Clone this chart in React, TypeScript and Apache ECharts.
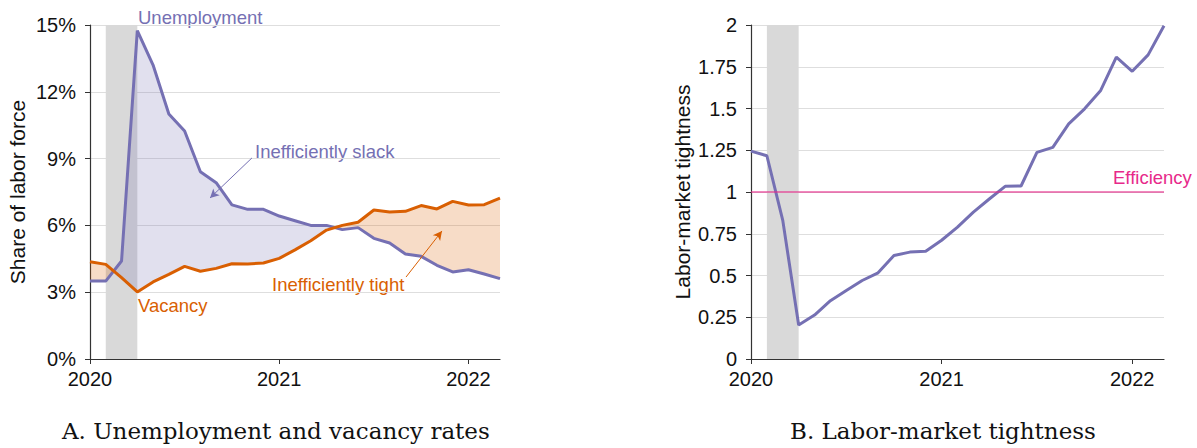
import React, { useEffect, useRef } from "react";
import * as echarts from "echarts";

const MONTHS = [
  "2020-01", "2020-02", "2020-03", "2020-04", "2020-05", "2020-06", "2020-07", "2020-08", "2020-09",
  "2020-10", "2020-11", "2020-12", "2021-01", "2021-02", "2021-03", "2021-04", "2021-05", "2021-06",
  "2021-07", "2021-08", "2021-09", "2021-10", "2021-11", "2021-12", "2022-01", "2022-02", "2022-03",
];
const UNEMPLOYMENT = [
  3.5, 3.5, 4.4, 14.75, 13.2, 11.0, 10.24, 8.41, 7.92, 6.92, 6.72, 6.72, 6.42, 6.21, 6.0, 6.0, 5.81,
  5.9, 5.42, 5.21, 4.72, 4.61, 4.21, 3.91, 4.01, 3.82, 3.61,
];
const VACANCY = [
  4.37, 4.25, 3.65, 3.01, 3.46, 3.8, 4.16, 3.94, 4.07, 4.28, 4.27, 4.31, 4.52, 4.9, 5.31, 5.79, 6.0,
  6.14, 6.69, 6.6, 6.63, 6.89, 6.74, 7.08, 6.92, 6.93, 7.22,
];
const TIGHTNESS = [
  1.245, 1.217, 0.83, 0.203, 0.263, 0.349, 0.41, 0.47, 0.516, 0.62, 0.64, 0.645, 0.711, 0.79, 0.88,
  0.958, 1.034, 1.036, 1.237, 1.267, 1.408, 1.498, 1.606, 1.807, 1.723, 1.821, 1.996,
];
const RECESSION = ["2020-02", "2020-04"];
const YEAR_TICKS = ["2020-01", "2021-01", "2022-01"];
const YEAR_LABELS = ["2020", "2021", "2022"];
const EFFICIENCY = 1;

const PURPLE = "#7570b3";
const ORANGE = "#d95f02";
const PINK = "#e7298a";
const SLACK_FILL = "rgba(117,112,179,0.22)";
const TIGHT_FILL = "rgba(217,95,2,0.22)";
const SANS = "Liberation Sans";
const SERIF = "DejaVu Serif";

const idx = (m: string) => MONTHS.indexOf(m);

type Pt = [number, number];
function buildRegions() {
  const regions: { sign: number; a: Pt[]; b: Pt[] }[] = [];
  let cur = {
    sign: Math.sign(UNEMPLOYMENT[0] - VACANCY[0]) || 1,
    a: [[0, UNEMPLOYMENT[0]]] as Pt[],
    b: [[0, VACANCY[0]]] as Pt[],
  };
  for (let i = 0; i < UNEMPLOYMENT.length - 1; i++) {
    const d0 = UNEMPLOYMENT[i] - VACANCY[i];
    const d1 = UNEMPLOYMENT[i + 1] - VACANCY[i + 1];
    if (d0 * d1 < 0) {
      const t = d0 / (d0 - d1);
      const xc = i + t;
      const yc = UNEMPLOYMENT[i] + t * (UNEMPLOYMENT[i + 1] - UNEMPLOYMENT[i]);
      cur.a.push([xc, yc]);
      cur.b.push([xc, yc]);
      regions.push(cur);
      cur = { sign: Math.sign(d1), a: [[xc, yc]], b: [[xc, yc]] };
    }
    cur.a.push([i + 1, UNEMPLOYMENT[i + 1]]);
    cur.b.push([i + 1, VACANCY[i + 1]]);
  }
  regions.push(cur);
  return regions;
}

const tickVals = YEAR_TICKS.map(idx);
const yearFmt = (v: number) => {
  const k = tickVals.indexOf(v);
  return k >= 0 ? YEAR_LABELS[k] : "";
};

function xAxisCfg(gridIndex: number) {
  return {
    type: "value",
    gridIndex,
    min: 0,
    max: MONTHS.length - 1,
    interval: 12,
    axisLine: { show: true, lineStyle: { color: "#333", width: 1.2 } },
    axisTick: { show: true, length: 5, customValues: tickVals, lineStyle: { color: "#333" } },
    axisLabel: {
      customValues: tickVals,
      formatter: yearFmt,
      fontFamily: SANS,
      fontSize: 20,
      color: "#111",
      margin: 10,
    },
    splitLine: { show: false },
  };
}

function yAxisCfg(gridIndex: number, max: number, interval: number, fmt: any, name: string, gap: number) {
  return {
    type: "value",
    gridIndex,
    min: 0,
    max,
    interval,
    name,
    nameLocation: "middle",
    nameGap: gap,
    nameTextStyle: { fontFamily: SANS, fontSize: 21, color: "#111" },
    axisLine: { show: true, lineStyle: { color: "#333", width: 1.2 } },
    axisTick: { show: true, length: 5, lineStyle: { color: "#333" } },
    axisLabel: { formatter: fmt, fontFamily: SANS, fontSize: 20, color: "#111", margin: 14 },
    splitLine: { show: true, lineStyle: { color: "#dedede", width: 1 } },
  };
}

export default function App() {
  const ref = useRef<HTMLDivElement>(null);
  useEffect(() => {
    if (!ref.current) return;
    const chart = echarts.init(ref.current, undefined, { renderer: "svg" });
    const regions = buildRegions();
    const recessionArea = {
      silent: true,
      itemStyle: { color: "#d9d9d9" },
      data: [[{ xAxis: idx(RECESSION[0]) }, { xAxis: idx(RECESSION[1]) }]],
    };
    const arrowLine = (color: string, from: Pt, to: Pt) => ({
      silent: true,
      symbol: ["none", "arrow"],
      symbolSize: [7, 9],
      lineStyle: { color, width: 1, type: "solid" },
      label: { show: false },
      data: [[{ coord: from }, { coord: to }]],
    });
    chart.setOption({
      animation: false,
      grid: [
        { left: 90, top: 25, width: 410, height: 334 },
        { left: 751, top: 25, width: 413, height: 334 },
      ],
      xAxis: [xAxisCfg(0), xAxisCfg(1)],
      yAxis: [
        yAxisCfg(0, 15, 3, "{value}%", "Share of labor force", 62),
        yAxisCfg(1, 2, 0.25, undefined, "Labor-market tightness", 58),
      ],
      series: [
        {
          type: "custom",
          name: "gap",
          xAxisIndex: 0,
          yAxisIndex: 0,
          z: 2,
          silent: true,
          data: [[0, 0]],
          renderItem: (params: any, api: any) => ({
            type: "group",
            children: regions.map((r) => ({
              type: "polygon",
              shape: { points: [...r.a, ...r.b.slice().reverse()].map((p) => api.coord(p)) },
              style: { fill: r.sign > 0 ? SLACK_FILL : TIGHT_FILL },
            })),
          }),
          markArea: recessionArea,
        },
        {
          type: "line",
          name: "Unemployment",
          xAxisIndex: 0,
          yAxisIndex: 0,
          z: 3,
          symbol: "none",
          lineStyle: { color: PURPLE, width: 3 },
          data: UNEMPLOYMENT.map((v, i) => [i, v]),
          markLine: arrowLine(PURPLE, [10.27, 9.03], [7.61, 7.23]),
        },
        {
          type: "line",
          name: "Vacancy",
          xAxisIndex: 0,
          yAxisIndex: 0,
          z: 4,
          symbol: "none",
          lineStyle: { color: ORANGE, width: 3 },
          data: VACANCY.map((v, i) => [i, v]),
          markLine: arrowLine(ORANGE, [20.04, 3.68], [22.32, 5.75]),
        },
        {
          type: "line",
          name: "Tightness",
          xAxisIndex: 1,
          yAxisIndex: 1,
          z: 3,
          symbol: "none",
          lineStyle: { color: PURPLE, width: 3 },
          data: TIGHTNESS.map((v, i) => [i, v]),
          markArea: recessionArea,
          markLine: {
            silent: true,
            symbol: ["none", "none"],
            lineStyle: { color: PINK, width: 1.5, type: "solid", opacity: 0.75 },
            label: { show: false },
            data: [{ yAxis: EFFICIENCY }],
          },
        },
      ],
      graphic: [
        { type: "text", left: 138, top: 8, style: { text: "Unemployment", fill: PURPLE, font: `18.5px "${SANS}"` } },
        { type: "text", left: 255, top: 142, style: { text: "Inefficiently slack", fill: PURPLE, font: `18.5px "${SANS}"` } },
        { type: "text", left: 138, top: 296, style: { text: "Vacancy", fill: ORANGE, font: `18.5px "${SANS}"` } },
        { type: "text", left: 272, top: 275, style: { text: "Inefficiently tight", fill: ORANGE, font: `18.5px "${SANS}"` } },
        { type: "text", left: 1113, top: 168, style: { text: "Efficiency", fill: PINK, font: `18.5px "${SANS}"` } },
        { type: "text", left: 62, top: 419, style: { text: "A. Unemployment and vacancy rates", fill: "#111", font: `23px "${SERIF}"` } },
        { type: "text", left: 790, top: 419, style: { text: "B. Labor-market tightness", fill: "#111", font: `23px "${SERIF}"` } },
      ],
    });
    return () => chart.dispose();
  }, []);
  return <div ref={ref} style={{ width: 1197, height: 448, position: "absolute", left: 0, top: 0 }} />;
}
